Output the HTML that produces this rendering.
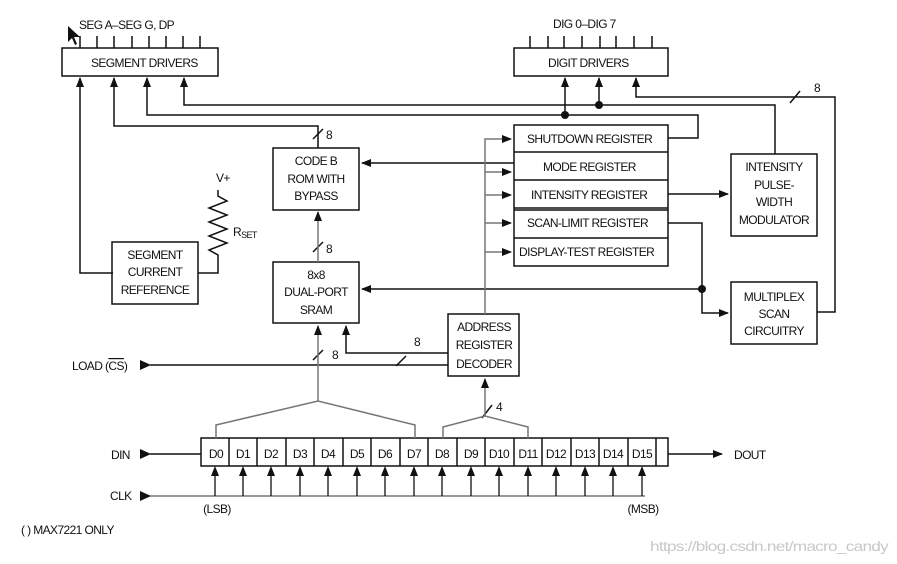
<!DOCTYPE html>
<html><head><meta charset="utf-8"><style>
html,body{margin:0;padding:0;background:#fff;}
svg{display:block;}
text{font-family:"Liberation Sans",sans-serif;font-size:12px;fill:#111;letter-spacing:-0.6px;}
</style></head><body>
<svg width="897" height="564" viewBox="0 0 897 564" xmlns="http://www.w3.org/2000/svg">
<defs>
<marker id="a" markerWidth="10" markerHeight="10" refX="9" refY="5" orient="auto" markerUnits="userSpaceOnUse"><path d="M0,1 L10,5 L0,9 Z" fill="#111"/></marker>
</defs>
<g fill="none" stroke="#111" stroke-width="1.5">
<rect x="62" y="48" width="156" height="28"/>
<path d="M80 36V48M97 36V48M114 36V48M132 36V48M149 36V48M166 36V48M183 36V48M200 36V48"/>
<rect x="514" y="48" width="154" height="28"/>
<path d="M530 36V48M548 36V48M564 36V48M582 36V48M600 36V48M616 36V48M634 36V48M652 36V48"/>
<path d="M113 273H80V78" marker-end="url(#a)"/>
<path d="M318 148V126H114V78" marker-end="url(#a)"/>
<path d="M668 138H698V115H147V78" marker-end="url(#a)"/>
<path d="M775 154V105H184V78" marker-end="url(#a)"/>
<path d="M565 115V78" marker-end="url(#a)"/>
<path d="M599 105V78" marker-end="url(#a)"/>
<path d="M817 312H835V97H636V78" marker-end="url(#a)"/>
<path d="M790 103L800 91M313 139L323 129M313 252L323 242M396 366L406 356M313 360L323 350M482 418L492 405"/>
<rect x="514" y="125" width="154" height="141"/>
<path d="M514 152H668M514 180H668M514 208H668M514 210H668M514 238H668"/>
<rect x="273" y="148" width="86" height="62"/>
<rect x="273" y="262" width="86" height="61"/>
<rect x="112" y="242" width="86" height="62"/>
<rect x="731" y="154" width="86" height="82"/>
<rect x="731" y="282" width="86" height="62"/>
<rect x="448" y="314" width="71" height="62"/>
<path d="M514 163H362" marker-end="url(#a)"/>
<path d="M702 289H362" marker-end="url(#a)"/>
<path d="M668 194H728" marker-end="url(#a)"/>
<path d="M668 223H702V313H728" marker-end="url(#a)"/>
<path d="M448 353H346V326" marker-end="url(#a)"/>
<path d="M448 365H150"/>
<path d="M198 273H218V255L209 250L227 243L209 236L227 229L209 222L227 215L209 208L227 201L218 196V190"/>
<rect x="201" y="438" width="467" height="28"/>
<path d="M229 438V466M257 438V466M286 438V466M314 438V466M343 438V466M371 438V466M400 438V466M428 438V466M457 438V466M485 438V466M514 438V466M542 438V466M571 438V466M599 438V466M628 438V466M656 438V466"/>
<path d="M150 454H201"/>
<path d="M668 454H722" marker-end="url(#a)"/>
</g>
<g fill="none" stroke="#777" stroke-width="1.5">
<path d="M485 314V139H511" marker-end="url(#a)"/>
<path d="M485 172H511" marker-end="url(#a)"/>
<path d="M485 195H511" marker-end="url(#a)"/>
<path d="M485 223H511" marker-end="url(#a)"/>
<path d="M485 252H511" marker-end="url(#a)"/>
<path d="M318 262V212" marker-end="url(#a)"/>
<path d="M318 401V326" marker-end="url(#a)"/>
<path d="M216 438V425L318 401L415 425V438"/>
<path d="M443 438V427L485 416L528 427V438"/>
<path d="M485 416V379" marker-end="url(#a)"/>
<path d="M150 496H645"/>
</g>
<g stroke="#111" stroke-width="1.3" fill="none">
<path d="M215 496V469M243 496V469M271 496V469M300 496V469M328 496V469M357 496V469M385 496V469M414 496V469M442 496V469M471 496V469M499 496V469M528 496V469M556 496V469M585 496V469M613 496V469M642 496V469" />
</g>
<g fill="#111">
<path d="M211 476L215 466L219 476ZM239 476L243 466L247 476ZM267 476L271 466L275 476ZM296 476L300 466L304 476ZM324 476L328 466L332 476ZM353 476L357 466L361 476ZM381 476L385 466L389 476ZM410 476L414 466L418 476ZM438 476L442 466L446 476ZM467 476L471 466L475 476ZM495 476L499 466L503 476ZM524 476L528 466L532 476ZM552 476L556 466L560 476ZM581 476L585 466L589 476ZM609 476L613 466L617 476ZM638 476L642 466L646 476Z"/>
<path d="M140 360L151 365L140 370ZM140 449L151 454L140 459ZM140 491L151 496L140 501Z"/>
<circle cx="565" cy="115" r="4"/><circle cx="599" cy="105" r="4"/><circle cx="702" cy="289" r="4"/>
<path d="M68 26L68 42L72 38L75 45L77 44L74 37L80 37Z"/>
</g>
<text x="79" y="29">SEG A–SEG G, DP</text>
<text x="91" y="67">SEGMENT DRIVERS</text>
<text x="553" y="28">DIG 0–DIG 7</text>
<text x="548" y="67">DIGIT DRIVERS</text>
<text x="326" y="139">8</text><text x="326" y="253">8</text><text x="332" y="359">8</text><text x="414" y="346">8</text><text x="814" y="92">8</text><text x="496" y="411">4</text>
<text x="527" y="143">SHUTDOWN REGISTER</text>
<text x="543" y="171">MODE REGISTER</text>
<text x="531" y="199">INTENSITY REGISTER</text>
<text x="527" y="227">SCAN-LIMIT REGISTER</text>
<text x="519" y="256">DISPLAY-TEST REGISTER</text>
<g text-anchor="middle">
<text x="316" y="165">CODE B</text><text x="316" y="183">ROM WITH</text><text x="316" y="200">BYPASS</text>
<text x="316" y="279">8x8</text><text x="316" y="296">DUAL-PORT</text><text x="316" y="314">SRAM</text>
<text x="155" y="259">SEGMENT</text><text x="155" y="276">CURRENT</text><text x="155" y="294">REFERENCE</text>
<text x="774" y="171">INTENSITY</text><text x="774" y="189">PULSE-</text><text x="774" y="206">WIDTH</text><text x="774" y="224">MODULATOR</text>
<text x="774" y="301">MULTIPLEX</text><text x="774" y="318">SCAN</text><text x="774" y="335">CIRCUITRY</text>
<text x="484" y="331">ADDRESS</text><text x="484" y="349">REGISTER</text><text x="484" y="368">DECODER</text>
<text x="216" y="458">D0</text><text x="243" y="458">D1</text><text x="271" y="458">D2</text><text x="300" y="458">D3</text><text x="328" y="458">D4</text><text x="357" y="458">D5</text><text x="385" y="458">D6</text><text x="414" y="458">D7</text><text x="442" y="458">D8</text><text x="471" y="458">D9</text><text x="499" y="458">D10</text><text x="528" y="458">D11</text><text x="556" y="458">D12</text><text x="585" y="458">D13</text><text x="613" y="458">D14</text><text x="642" y="458">D15</text>
<text x="217" y="513">(LSB)</text><text x="643" y="513">(MSB)</text>
</g>
<text x="216" y="182">V+</text>
<text x="233" y="236">R<tspan font-size="9" dy="2">SET</tspan></text>
<text x="72" y="370">LOAD (<tspan text-decoration="overline">CS</tspan>)</text>
<text x="111" y="459">DIN</text>
<text x="110" y="500">CLK</text>
<text x="734" y="459">DOUT</text>
<text x="21" y="534">( ) MAX7221 ONLY</text>
<text x="650" y="551" textLength="238" lengthAdjust="spacingAndGlyphs" style="fill:#c8c8c8;font-size:14px">https://blog.csdn.net/macro_candy</text>
</svg>
</body></html>
